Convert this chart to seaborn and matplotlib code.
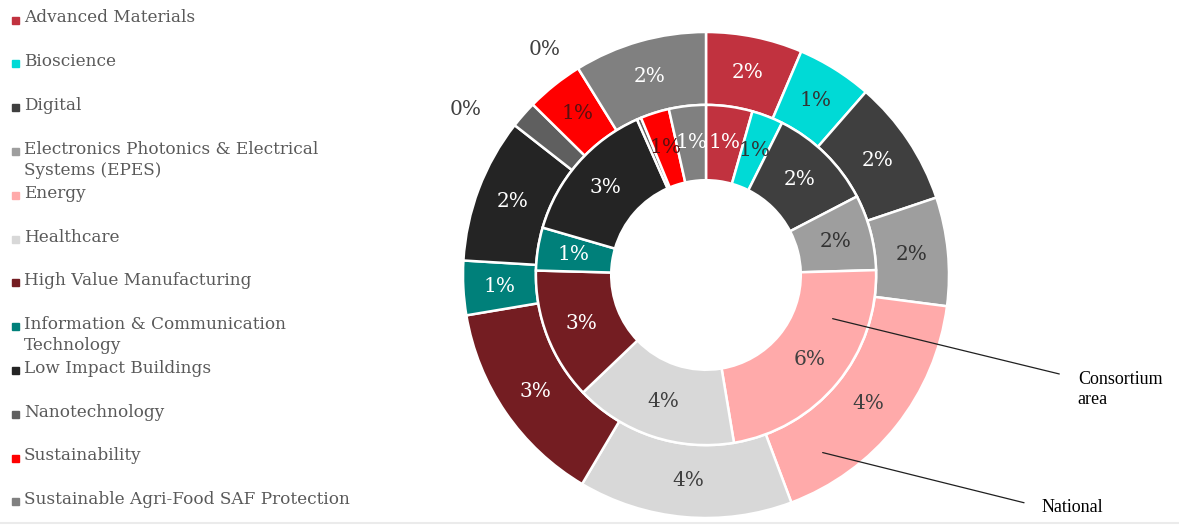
import numpy as np
import matplotlib
matplotlib.use("Agg")
import matplotlib.pyplot as plt
import seaborn as sns

sns.set_theme(style="white")
plt.rcParams["font.family"] = ["DejaVu Serif"]

# sector names (legend order, also slice order clockwise from 12 o'clock)
categories = [
    "Advanced Materials",
    "Bioscience",
    "Digital",
    "Electronics Photonics & Electrical\nSystems (EPES)",
    "Energy",
    "Healthcare",
    "High Value Manufacturing",
    "Information & Communication\nTechnology",
    "Low Impact Buildings",
    "Nanotechnology",
    "Sustainability",
    "Sustainable Agri-Food SAF Protection",
]
# outer ring: National share (%)
national = [1.6, 1.25, 2.1, 1.8, 4.3, 3.55, 3.45, 0.9, 2.4, 0.45, 0.95, 2.2]
# inner ring: Consortium area share (%)
consortium = [1.08, 0.73, 2.45, 1.76, 5.6, 3.8, 3.08, 1.0, 3.4, 0.1, 0.67, 0.86]

colors = ["#C1323F", "#00DAD6", "#3F3F3F", "#9E9E9E", "#FFAAAA", "#D8D8D8",
          "#741D22", "#00807A", "#242424", "#5F5F5F", "#FF0000", "#808080"]
label_colors = ["white", "#333333", "white", "#333333", "#404040", "#404040",
                "white", "white", "white", "#404040", "#5a1010", "white"]
palette = sns.color_palette(colors)

W, H, DPI = 1179, 525, 100
fig = plt.figure(figsize=(W / DPI, H / DPI), dpi=DPI)
ax = fig.add_axes([0, 0, 1, 1])

# pie centre at (706, 275) px, outer radius 243 px
cx, cy, rpx = 706, 275, 243

r_out, r_mid, r_in = 1.0, 0.70, 0.39
wedge_kw = dict(edgecolor="white", linewidth=1.8)

outer, _ = ax.pie(national, radius=r_out, colors=palette, startangle=90,
                  counterclock=False,
                  wedgeprops=dict(width=r_out - r_mid, **wedge_kw))
inner, _ = ax.pie(consortium, radius=r_mid, colors=palette, startangle=90,
                  counterclock=False,
                  wedgeprops=dict(width=r_mid - r_in, **wedge_kw))
ax.set_xlim(-cx / rpx, (W - cx) / rpx)
ax.set_ylim(-(H - cy) / rpx, cy / rpx)
ax.axis("off")

# labels for tiny slices were dragged outside the ring
moved = {("outer", 9): (145.5, 1.20), ("inner", 9): (125.6, 1.14)}


def label_ring(wedges, values, ring, r_lab):
    for i, (w, v) in enumerate(zip(wedges, values)):
        ang = (w.theta1 + w.theta2) / 2
        r = r_lab
        col = label_colors[i]
        if (ring, i) in moved:
            ang, r = moved[(ring, i)]
            col = "#404040"
        x, y = r * np.cos(np.radians(ang)), r * np.sin(np.radians(ang))
        ax.text(x, y, f"{v:.0f}%", ha="center", va="center", fontsize=14.5,
                color=col)


label_ring(outer, national, "outer", 0.85)
label_ring(inner, consortium, "inner", 0.55)

# ring call-outs
ann_font = dict(family=["Liberation Serif"], fontsize=13, color="black")
ax.annotate("", xy=(0.51, -0.177), xytext=(1.465, -0.41),
            arrowprops=dict(arrowstyle="-", color="#202020", lw=0.9))
ax.text(1.53, -0.47, "Consortium\narea", ha="left", va="center",
        linespacing=1.25, **ann_font)
ax.annotate("", xy=(0.469, -0.728), xytext=(1.32, -0.94),
            arrowprops=dict(arrowstyle="-", color="#202020", lw=0.9))
ax.text(1.38, -0.955, "National", ha="left", va="center", **ann_font)

# legend drawn by hand, one slot per sector
top_px, step_px = 19.5, 43.8
for i, name in enumerate(categories):
    yc = 1 - (top_px + i * step_px) / H
    fig.patches.append(plt.Rectangle((12 / W, yc - 4 / H), 7 / W, 7 / H,
                                     transform=fig.transFigure,
                                     color=colors[i]))
    fig.text(24 / W, yc + 10 / H, name, ha="left", va="top", fontsize=12.2,
             color="#595959", linespacing=1.3)

# faint frame line along the bottom edge
fig.add_artist(plt.Line2D([0, 1], [2.5 / H, 2.5 / H], transform=fig.transFigure,
                          color="#EBEBEB", lw=1.5))

fig.savefig("out.png", dpi=DPI)
